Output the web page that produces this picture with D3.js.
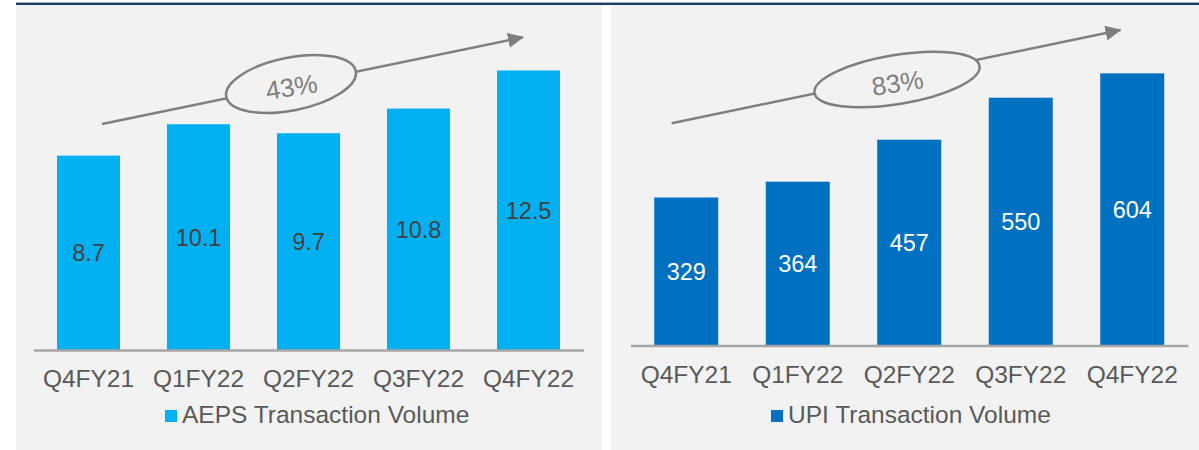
<!DOCTYPE html>
<html>
<head>
<meta charset="utf-8">
<script src="https://cdn.jsdelivr.net/npm/d3@7"></script>
<style>
  body { margin: 0; background: #fff; }
  svg { display: block; font-family: "Liberation Sans", Arial, sans-serif; }
</style>
</head>
<body>
<svg id="chart" width="1199" height="450"></svg>
<script>
// Data
const categories = ['Q4FY21', 'Q1FY22', 'Q2FY22', 'Q3FY22', 'Q4FY22'];
const aepsValues = [8.7, 10.1, 9.7, 10.8, 12.5];
const upiValues = [329, 364, 457, 550, 604];
const aepsLabel = 'AEPS Transaction Volume';
const upiLabel = 'UPI Transaction Volume';
const aepsGrowth = '43%';
const upiGrowth = '83%';

const svg = d3.select('#chart');
const grey = '#7f7f7f';

// arrow head marker
svg.append('defs').append('marker')
    .attr('id', 'head')
    .attr('markerUnits', 'userSpaceOnUse')
    .attr('viewBox', '0 0 16 15')
    .attr('markerWidth', 16)
    .attr('markerHeight', 15)
    .attr('refX', 15)
    .attr('refY', 7.5)
    .attr('orient', 'auto')
    .append('path')
    .attr('d', 'M0,0 L16,7.5 L0,15 Z')
    .attr('fill', grey);

// top rule
svg.append('rect').attr('x', 16).attr('y', 2).attr('width', 1183).attr('height', 1).attr('fill', '#9fb3cc');
svg.append('rect').attr('x', 16).attr('y', 3).attr('width', 1183).attr('height', 2).attr('fill', '#1c3a6b');

function drawPanel(opts) {
    //panel background
    svg.append('rect')
        .attr('x', opts.panel[0]).attr('y', 5)
        .attr('width', opts.panel[1] - opts.panel[0]).attr('height', 445)
        .attr('fill', '#f2f2f2');

    var x = d3.scaleBand()
        .domain(categories)
        .range(opts.xRange)
        .paddingInner(opts.pad)
        .paddingOuter(opts.pad / 2);

    var y = d3.scaleLinear()
        .domain([0, opts.max])
        .range([opts.base, opts.top]);

    var g = svg.append('g');

    //bars
    g.selectAll('.bar')
        .data(opts.values)
        .enter().append('rect')
        .attr('class', 'bar')
        .attr('x', (d, i) => x(categories[i]))
        .attr('y', d => y(d))
        .attr('width', x.bandwidth())
        .attr('height', d => y(0) - y(d))
        .attr('fill', opts.color);

    //value labels, centred in the bar
    g.selectAll('.val')
        .data(opts.values)
        .enter().append('text')
        .attr('class', 'val')
        .attr('x', (d, i) => x(categories[i]) + x.bandwidth() / 2)
        .attr('y', d => (y(d) + y(0)) / 2)
        .attr('dy', '0.35em')
        .attr('text-anchor', 'middle')
        .attr('font-size', 23.5)
        .attr('fill', opts.labelColor)
        .text(d => d);

    //category axis
    var axis = g.append('g')
        .attr('transform', 'translate(0,' + (opts.base - 0.5) + ')')
        .call(d3.axisBottom(x).tickSize(0).tickPadding(20));
    axis.select('.domain').attr('stroke', '#a6a6a6').attr('stroke-width', 2.5);
    axis.selectAll('text')
        .attr('font-size', 24.5)
        .attr('font-family', '"Liberation Sans", Arial, sans-serif')
        .attr('fill', '#595959');

    //legend
    var lg = g.append('g').attr('transform', 'translate(' + opts.legendX + ',0)');
    lg.append('rect').attr('x', 0).attr('y', 410).attr('width', 12).attr('height', 12).attr('fill', opts.color);
    lg.append('text')
        .attr('x', 17).attr('y', 423)
        .attr('font-size', 24.5)
        .attr('fill', '#595959')
        .text(opts.legend);

    //growth arrow with ellipse
    var a = opts.arrow;
    g.append('line')
        .attr('x1', a.from[0]).attr('y1', a.from[1])
        .attr('x2', a.to[0]).attr('y2', a.to[1])
        .attr('stroke', grey).attr('stroke-width', 2.5)
        .attr('marker-end', 'url(#head)');
    g.append('ellipse')
        .attr('cx', 0).attr('cy', 0)
        .attr('rx', a.rx).attr('ry', a.ry)
        .attr('transform', 'translate(' + a.c[0] + ',' + a.c[1] + ') rotate(' + a.angle + ')')
        .attr('fill', '#f2f2f2')
        .attr('stroke', grey).attr('stroke-width', 2.5);
    g.append('text')
        .attr('transform', 'translate(' + a.t[0] + ',' + a.t[1] + ') rotate(-9)')
        .attr('text-anchor', 'middle')
        .attr('dy', '0.35em')
        .attr('font-size', 26)
        .attr('fill', grey)
        .text(opts.growth);
}

drawPanel({
    panel: [16, 602],
    xRange: [33.5, 583.5],
    pad: 0.427,
    max: 14,
    base: 350.5,
    top: 36.9,
    values: aepsValues,
    color: '#00b0f0',
    labelColor: '#404040',
    legend: aepsLabel,
    legendX: 165,
    growth: aepsGrowth,
    arrow: { from: [102, 124], to: [523, 37.3], c: [291, 84], rx: 66, ry: 26.5, angle: -11.2, t: [291.5, 87] }
});

drawPanel({
    panel: [611, 1199],
    xRange: [630.5, 1188],
    pad: 0.426,
    max: 700,
    base: 346,
    top: 30,
    values: upiValues,
    color: '#0070c0',
    labelColor: '#ffffff',
    legend: upiLabel,
    legendX: 771,
    growth: upiGrowth,
    arrow: { from: [671.6, 123.3], to: [1120.5, 30], c: [897, 79.5], rx: 83.6, ry: 24.6, angle: -9.3, t: [897.5, 83] }
});
</script>
</body>
</html>
